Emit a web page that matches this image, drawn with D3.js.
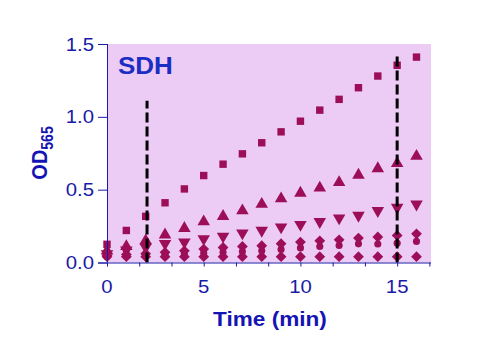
<!DOCTYPE html>
<meta charset="utf-8">
<style>
  body { margin: 0; background: #fff; }
  text { font-family: "Liberation Sans", Arial, sans-serif; }
</style>
<svg width="501" height="355"></svg>
<script src="https://d3js.org/d3.v7.min.js"></script>
<script>

// time points (min)
var times = [0, 1, 2, 3, 4, 5, 6, 7, 8, 9, 10, 11, 12, 13, 14, 15, 16]

// OD565 readings, one array per sample
var squares   = [0.125, 0.22, 0.317, 0.41, 0.505, 0.597, 0.675, 0.746, 0.822, 0.897, 0.97, 1.046, 1.12, 1.20, 1.28, 1.354, 1.41]
var upTris    = [0.08, 0.11, 0.15, 0.19, 0.235, 0.28, 0.317, 0.356, 0.40, 0.438, 0.477, 0.512, 0.55, 0.60, 0.645, 0.68, 0.73]
var downTris  = [0.06, 0.085, 0.105, 0.13, 0.14, 0.163, 0.18, 0.202, 0.22, 0.243, 0.26, 0.28, 0.305, 0.323, 0.356, 0.378, 0.40]
var diamondsA = [0.05, 0.055, 0.06, 0.07, 0.08, 0.092, 0.103, 0.11, 0.115, 0.129, 0.14, 0.149, 0.156, 0.168, 0.175, 0.186, 0.197]
var circles   = [0.04, 0.045, 0.05, 0.055, 0.06, 0.065, 0.07, 0.075, 0.08, 0.09, 0.10, 0.11, 0.117, 0.128, 0.127, 0.133, 0.145]
var diamondsB = [0.04, 0.04, 0.04, 0.04, 0.04, 0.04, 0.04, 0.04, 0.04, 0.04, 0.04, 0.04, 0.04, 0.04, 0.04, 0.04, 0.04]

// dashed reading windows: [time, top of line]
var markers = [[2.07, 1.11], [15, 1.44]]

var xMajor = [0, 5, 10, 15]
var yMajor = [0, 0.5, 1.0, 1.5]

var blue = '#1a1aa8'
var plum = '#9c0f58'
var stretch = 1.13   // the original picture is a bit wider than tall

var svg = d3.select('svg')

var x = d3.scaleLinear().domain([0, 16.75]).range([107, 431])
var y = d3.scaleLinear().domain([0, 1.5]).range([262.5, 44])

// helper: text stretched horizontally like the source image
function label(px, py, txt, size, opts) {
  opts = opts || {}
  var t = svg.append('text')
    .attr('transform', 'translate(' + px + ',' + py + ') scale(' + stretch + ',1)' + (opts.rotate ? ' rotate(-90)' : ''))
    .attr('text-anchor', opts.anchor || 'start')
    .attr('font-size', size)
    .attr('font-weight', opts.bold ? 'bold' : 'normal')
    .attr('fill', opts.color || blue)
  if (txt !== null) t.text(txt)
  return t
}

// plot background
svg.append('rect')
  .attr('x', x(0)).attr('y', y(1.5))
  .attr('width', x(16.75) - x(0)).attr('height', y(0) - y(1.5))
  .attr('fill', '#eccbf4')

// series
var series = [
  { values: diamondsB, shape: d3.symbolSquare, size: 58, rot: 45 },
  { values: circles, shape: d3.symbolCircle, size: 40 },
  { values: diamondsA, shape: d3.symbolSquare, size: 58, rot: 45 },
  { values: downTris, shape: d3.symbolTriangle, size: 68, rot: 180 },
  { values: upTris, shape: d3.symbolTriangle, size: 68 },
  { values: squares, shape: d3.symbolSquare, size: 55 }
]

series.forEach(function (s) {
  var sym = d3.symbol().type(s.shape).size(s.size)
  svg.append('g').selectAll('path')
    .data(times.map(function (t, i) { return [t, s.values[i]] }))
    .enter().append('path')
    .attr('d', sym)
    .attr('fill', plum)
    .attr('transform', function (d) {
      return 'translate(' + x(d[0]) + ',' + y(d[1]) + ')' + (s.rot ? ' rotate(' + s.rot + ')' : '')
    })
})

// dashed lines
svg.append('g').selectAll('line')
  .data(markers)
  .enter().append('line')
  .attr('x1', function (d) { return x(d[0]) })
  .attr('x2', function (d) { return x(d[0]) })
  .attr('y1', y(0))
  .attr('y2', function (d) { return y(d[1]) })
  .attr('stroke', '#000')
  .attr('stroke-width', 3)
  .attr('stroke-dasharray', '10,4')

// x axis: minor ticks every 5/3, labels at 0,5,10,15
var xAxis = svg.append('g').attr('transform', 'translate(0,' + y(0) + ')')
xAxis.call(d3.axisBottom(x).tickValues(d3.range(0, 16.9, 5 / 3)).tickSize(4).tickFormat(''))
xAxis.select('.domain').attr('d', 'M' + (x(0) - 9) + ',0.5H' + x(16.75))
xAxis.selectAll('line').attr('stroke', blue)
xAxis.select('.domain').attr('stroke', blue)

xMajor.forEach(function (d) {
  label(x(d), 293, d, 18, { anchor: 'middle' })
})

// y axis
var yAxis = svg.append('g').attr('transform', 'translate(' + x(0) + ',0)')
yAxis.call(d3.axisLeft(y).tickValues(yMajor).tickSize(9).tickFormat(''))
yAxis.select('.domain').attr('stroke', blue).attr('d', 'M0.5,' + y(1.5) + 'V' + y(0))
yAxis.selectAll('line').attr('stroke', blue)

yMajor.forEach(function (d) {
  label(94, y(d) + 6.5, d3.format('.1f')(d), 18, { anchor: 'end' })
})

// title
label(118, 74, 'SDH', 23, { bold: true, color: '#1a2ec4' })

// axis titles
label(270, 326, 'Time (min)', 20, { bold: true, anchor: 'middle', color: '#1414b4' })

var yl = label(47, 153, null, 20, { bold: true, anchor: 'middle', rotate: true, color: '#1414b4' })
yl.append('tspan').text('OD')
yl.append('tspan').attr('font-size', 14).attr('dy', 5).text('565')

</script>
